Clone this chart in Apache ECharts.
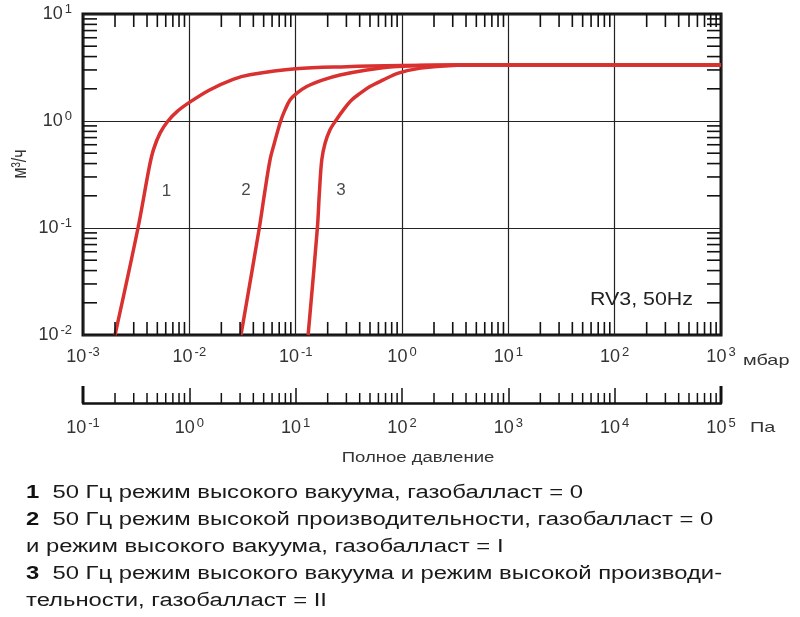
<!DOCTYPE html>
<html lang="ru" style="height: 100%">
<head>
    <meta charset="UTF-8">
    <title>RV3, 50Hz</title>
    <script src="https://cdn.jsdelivr.net/npm/echarts@6/dist/echarts.min.js"></script>
</head>
<body style="height: 100%; margin: 0; background: #fff">
<div id="container" style="width: 800px; height: 617px"></div>

<script type="text/javascript">
    // decade exponents of the three scales
    var mbarExps = [-3, -2, -1, 0, 1, 2, 3];
    var paExps = [-1, 0, 1, 2, 3, 4, 5];
    var flowExps = [-2, -1, 0, 1];
    var minorSteps = [2, 3, 4, 5, 6, 7, 8, 9];

    // [давление, мбар ; производительность, м3/ч]
    var curve1 = [[0.002, 0.01], [0.00329, 0.1], [0.0042, 0.37], [0.0046, 0.54],
        [0.0053, 0.77], [0.0063, 1.0], [0.0077, 1.23], [0.0101, 1.5], [0.0155, 1.95], [0.0258, 2.45],
        [0.037, 2.7], [0.1, 3.08], [0.3, 3.22], [1.0, 3.3], [3.0, 3.33], [1000, 3.33]];
    var curve2 = [[0.0306, 0.01], [0.0455, 0.1], [0.051, 0.211], [0.0574, 0.433], [0.063, 0.62],
        [0.0723, 1.0], [0.0794, 1.27], [0.0885, 1.57], [0.102, 1.81], [0.127, 2.1], [0.181, 2.42],
        [0.261, 2.69], [0.466, 3.0], [0.822, 3.22], [1.5, 3.3], [3.0, 3.33], [1000, 3.33]];
    var curve3 = [[0.131, 0.01], [0.16, 0.1], [0.167, 0.211], [0.176, 0.433], [0.189, 0.62],
        [0.21, 0.824], [0.237, 1.0], [0.281, 1.27], [0.336, 1.57], [0.403, 1.81], [0.5, 2.1],
        [0.667, 2.42], [0.923, 2.8], [1.5, 3.12], [3.0, 3.31], [5.0, 3.33], [1000, 3.33]];
    var curveLabels = [[0.00609, 0.222, '1'], [0.0341, 0.226, '2'], [0.267, 0.226, '3']];

    var legendLines = [
        ['1', '50 Гц режим высокого вакуума, газобалласт = 0'],
        ['2', '50 Гц режим высокой производительности, газобалласт = 0'],
        ['', 'и режим высокого вакуума, газобалласт = I'],
        ['3', '50 Гц режим высокого вакуума и режим высокой производи-'],
        ['', 'тельности, газобалласт = II']
    ];

    var log10 = Math.log10;
    function toLog(points) {
        return points.map(function (p) { return [log10(p[0]), log10(p[1])]; });
    }
    function minorOf(exps) {
        var out = [];
        for (var i = 0; i < exps.length - 1; i++) {
            minorSteps.forEach(function (m) { out.push(exps[i] + log10(m)); });
        }
        return out;
    }

    var xMin = mbarExps[0], xMax = mbarExps[mbarExps.length - 1];
    var yMin = flowExps[0], yMax = flowExps[flowExps.length - 1];
    var minorX = minorOf(mbarExps), minorY = minorOf(flowExps), minorPa = minorOf(paExps);

    // text in the source picture is drawn wider than the font
    var ctx = document.createElement('canvas').getContext('2d');
    function textWidth(str, font) { ctx.font = font; return ctx.measureText(str).width; }
    var FONT = '"Liberation Sans", Arial, sans-serif';
    var stretch = 557 / (textWidth('1', 'bold 18px ' + FONT) +
        textWidth('  ' + legendLines[0][1], '18px ' + FONT));
    var rvStretch = 103 / textWidth('RV3, 50Hz', '18px ' + FONT);

    var expRich = {
        b: {fontSize: 18, fontFamily: FONT, color: '#333', lineHeight: 22},
        s: {fontSize: 13, fontFamily: FONT, color: '#333', lineHeight: 12, verticalAlign: 'top', padding: [0, 0, 0, 2]}
    };
    function expLabel(v) { return '{b|10}{s|' + v + '}'; }

    function tickSeries(xi, yi, data, dx, dy, width) {
        return {
            type: 'custom',
            xAxisIndex: xi,
            yAxisIndex: yi,
            silent: true,
            z: 5,
            data: data,
            renderItem: function (params, api) {
                var p = api.coord([api.value(0), api.value(1)]);
                return {
                    type: 'line',
                    shape: {x1: p[0], y1: p[1], x2: p[0] + dx, y2: p[1] + dy},
                    style: {stroke: '#111', lineWidth: width}
                };
            }
        };
    }

    function curveSeries(points) {
        return {
            type: 'line',
            xAxisIndex: 0,
            yAxisIndex: 0,
            data: toLog(points),
            smooth: 0.35,
            showSymbol: false,
            silent: true,
            z: 4,
            lineStyle: {color: '#d93030', width: 3.5}
        };
    }

    var graphics = legendLines.map(function (line, i) {
        return {
            type: 'text',
            x: 26,
            y: 493.5 + i * 27,
            scaleX: stretch,
            style: {
                text: line[0] ? '{n|' + line[0] + '}  ' + line[1] : line[1],
                fontSize: 18,
                fontFamily: FONT,
                fill: '#1a1a1a',
                verticalAlign: 'middle',
                rich: {n: {fontSize: 18, fontFamily: FONT, fontWeight: 'bold', fill: '#111'}}
            }
        };
    });
    graphics.push(
        {type: 'text', x: 418, y: 458, scaleX: stretch,
            style: {text: 'Полное давление', fontSize: 14, fontFamily: FONT, fill: '#333', align: 'center', verticalAlign: 'middle'}},
        {type: 'text', x: 743, y: 361, scaleX: stretch,
            style: {text: 'мбар', fontSize: 15, fontFamily: FONT, fill: '#333', verticalAlign: 'middle'}},
        {type: 'text', x: 750, y: 428, scaleX: stretch,
            style: {text: 'Па', fontSize: 15, fontFamily: FONT, fill: '#333', verticalAlign: 'middle'}},
        {type: 'text', x: 693, y: 300, scaleX: rvStretch,
            style: {text: 'RV3, 50Hz', fontSize: 18, fontFamily: FONT, fill: '#222', align: 'right', verticalAlign: 'middle'}},
        {type: 'text', x: 20, y: 164, rotation: Math.PI / 2, scaleY: 1.3,
            style: {text: 'м³/ч', fontSize: 16, fontFamily: FONT, fill: '#333', align: 'center', verticalAlign: 'middle'}}
    );

    var dom = document.getElementById('container');
    var myChart = echarts.init(dom);

    var option = {
        animation: false,
        backgroundColor: '#fff',
        grid: [
            {left: 83, top: 14, width: 638, height: 321, show: true, borderColor: '#111', borderWidth: 3},
            {left: 83, top: 383, width: 638, height: 20}
        ],
        xAxis: [{
            type: 'value', gridIndex: 0, min: xMin, max: xMax, interval: 1,
            axisLine: {show: false},
            axisTick: {show: false},
            splitLine: {show: true, lineStyle: {color: '#222', width: 1.2}},
            axisLabel: {margin: 11, formatter: expLabel, rich: expRich}
        }, {
            type: 'value', gridIndex: 1, min: paExps[0], max: paExps[paExps.length - 1], interval: 1,
            position: 'bottom',
            axisLine: {show: true, lineStyle: {color: '#111', width: 2.5}},
            axisTick: {show: true, inside: true, length: 15, lineStyle: {color: '#111', width: 1.5}},
            splitLine: {show: false},
            axisLabel: {margin: 14, formatter: expLabel, rich: expRich}
        }],
        yAxis: [{
            type: 'value', gridIndex: 0, min: yMin, max: yMax, interval: 1,
            axisLine: {show: false},
            axisTick: {show: false},
            splitLine: {show: true, lineStyle: {color: '#222', width: 1.2}},
            axisLabel: {margin: 11, formatter: expLabel, rich: expRich}
        }, {
            type: 'value', gridIndex: 1, min: 0, max: 1, show: false
        }],
        series: [
            curveSeries(curve1),
            curveSeries(curve2),
            curveSeries(curve3),
            tickSeries(0, 0, minorX.map(function (v) { return [v, yMin]; }), 0, -13, 1.6),
            tickSeries(0, 0, minorX.map(function (v) { return [v, yMax]; }), 0, 13, 1.6),
            tickSeries(0, 0, minorY.map(function (v) { return [xMin, v]; }), 14, 0, 1.6),
            tickSeries(0, 0, minorY.map(function (v) { return [xMax, v]; }), -14, 0, 1.6),
            tickSeries(1, 1, minorPa.map(function (v) { return [v, 0]; }), 0, -10, 1.5),
            tickSeries(1, 1, [[paExps[0], 0], [paExps[paExps.length - 1], 0]], 0, -17, 3),
            {
                type: 'scatter',
                xAxisIndex: 0,
                yAxisIndex: 0,
                silent: true,
                symbolSize: 0,
                itemStyle: {color: 'transparent'},
                z: 6,
                data: curveLabels.map(function (c) { return [log10(c[0]), log10(c[1]), c[2]]; }),
                label: {
                    show: true, position: 'inside',
                    formatter: function (p) { return p.data[2]; },
                    fontSize: 17, fontFamily: FONT, color: '#1a1a1a'
                }
            }
        ],
        graphic: graphics
    };

    myChart.setOption(option);
</script>
</body>
</html>
